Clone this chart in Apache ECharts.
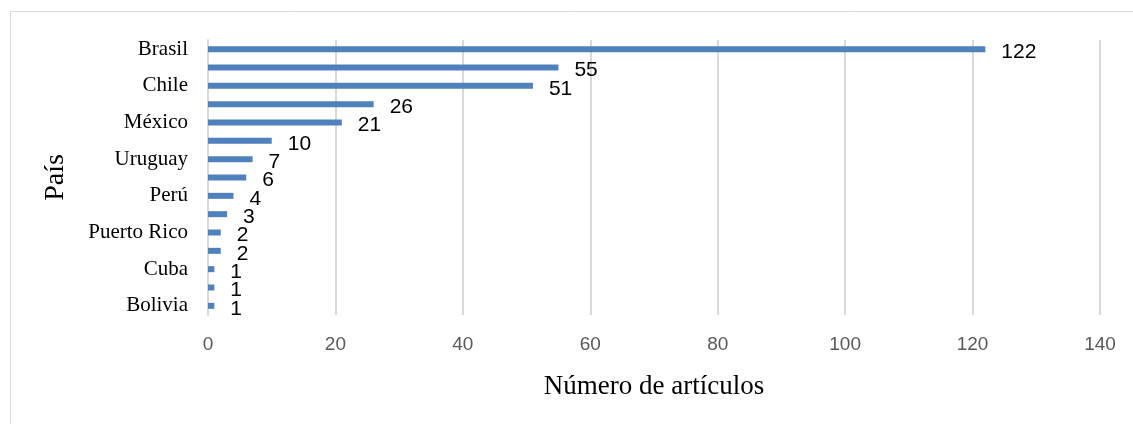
<!DOCTYPE html>
<html>
<head>
<meta charset="utf-8">
<script src="https://cdn.jsdelivr.net/npm/echarts@6/dist/echarts.min.js"></script>
<style>
html,body{margin:0;padding:0;background:#fff;}
#chart{width:1133px;height:424px;}
</style>
</head>
<body>
<div id="chart"></div>
<script>
// Countries, top to bottom (only every other name is shown on the axis)
var countries = ['Brasil','Argentina','Chile','Colombia','México','Venezuela','Uruguay','Ecuador','Perú','Costa Rica','Puerto Rico','Paraguay','Cuba','Guatemala','Bolivia'];
var articles = [122, 55, 51, 26, 21, 10, 7, 6, 4, 3, 2, 2, 1, 1, 1];
var xTicks = [0, 20, 40, 60, 80, 100, 120, 140];
var xTitle = 'Número de artículos';
var yTitle = 'País';

var chart = echarts.init(document.getElementById('chart'), null, {renderer: 'canvas'});
chart.setOption({
  animation: false,
  backgroundColor: '#ffffff',
  graphic: [{
    type: 'rect',
    shape: {x: 10.5, y: 11.5, width: 1300, height: 600},
    style: {fill: 'none', stroke: '#d9d9d9', lineWidth: 1},
    silent: true
  }],
  grid: {left: 208, right: 33, top: 40, bottom: 109, containLabel: false},
  xAxis: {
    type: 'value',
    min: xTicks[0],
    max: xTicks[xTicks.length - 1],
    interval: xTicks[1] - xTicks[0],
    name: xTitle,
    nameLocation: 'middle',
    nameGap: 58,
    nameTextStyle: {fontFamily: 'Liberation Serif', fontSize: 27, color: '#000'},
    axisLine: {show: false},
    axisTick: {show: false},
    axisLabel: {margin: 20, fontFamily: 'Liberation Sans', fontSize: 19, color: '#595959'},
    splitLine: {show: true, lineStyle: {color: '#d9d9d9', width: 2}}
  },
  yAxis: {
    type: 'category',
    inverse: true,
    data: countries,
    name: yTitle,
    nameLocation: 'middle',
    nameGap: 138,
    nameTextStyle: {fontFamily: 'Liberation Serif', fontSize: 28, color: '#000'},
    axisLine: {show: true, lineStyle: {color: '#d9d9d9', width: 2}},
    axisTick: {show: false},
    axisLabel: {interval: 1, margin: 20, fontFamily: 'Liberation Serif', fontSize: 21, color: '#000'},
    splitLine: {show: false}
  },
  series: [{
    type: 'bar',
    data: articles,
    barWidth: 6,
    itemStyle: {color: '#4f81bd'},
    label: {
      show: true,
      position: 'right',
      distance: 16,
      offset: [0, 3],
      fontFamily: 'Liberation Sans',
      fontSize: 21,
      color: '#000'
    }
  }]
});
</script>
</body>
</html>
